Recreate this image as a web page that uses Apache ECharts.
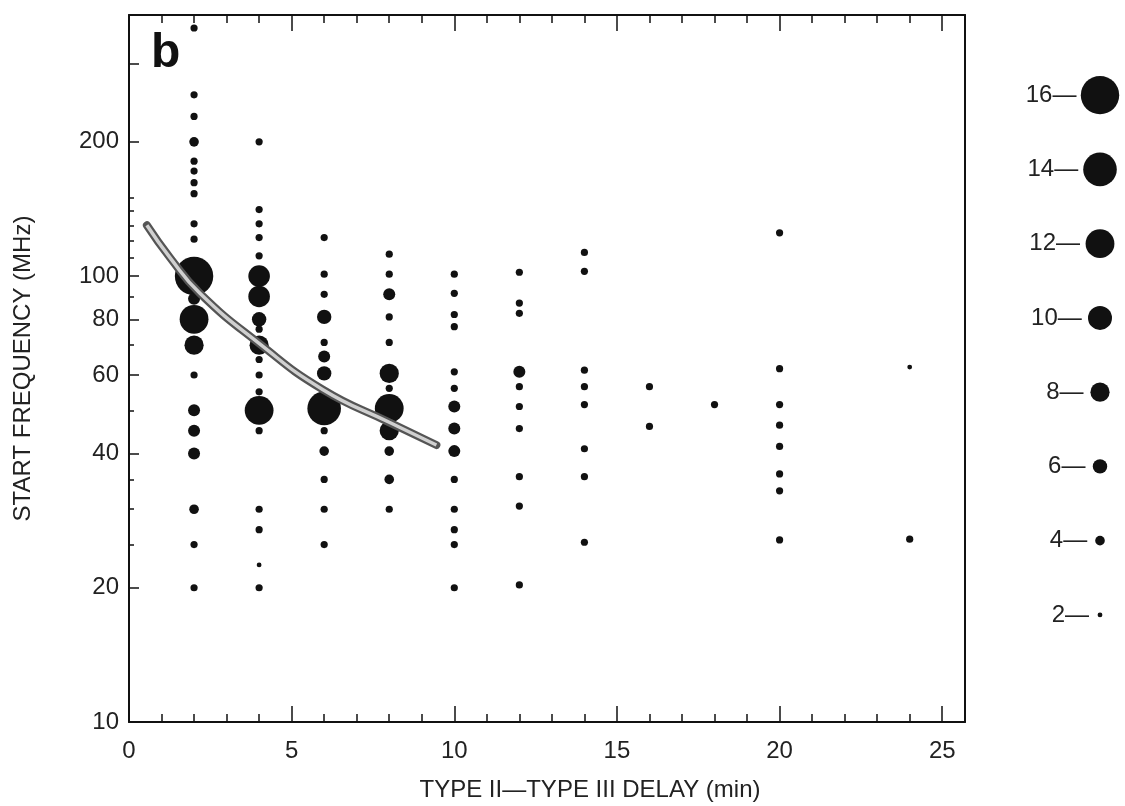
<!DOCTYPE html>
<html>
<head>
<meta charset="utf-8">
<script src="https://cdn.jsdelivr.net/npm/echarts@6/dist/echarts.min.js"></script>
<style>
html, body { margin: 0; padding: 0; background: #fff; }
#chart { width: 1125px; height: 806px; }
</style>
</head>
<body>
<div id="chart"></div>
<script>
// delay columns (min)
const delays = [2, 4, 6, 8, 10, 12, 14, 16, 18, 20, 24];
// start frequency of each burst in a column (MHz)
const freqs = [
  [360, 255, 228, 200, 181, 172, 162, 153, 131, 121, 100, 89, 80, 70, 60, 50, 45, 40, 30, 25, 20],
  [200, 141, 131, 122, 111, 100, 90, 80, 76, 70, 65, 60, 55, 50, 45, 30, 27, 22.5, 20],
  [122, 101, 91, 81, 71, 66, 60.5, 50.5, 45, 40.5, 35, 30, 25],
  [112, 101, 91, 81, 71, 60.5, 56, 50.5, 45, 40.5, 35, 30],
  [101, 91.5, 82, 77, 61, 56, 51, 45.5, 40.5, 35, 30, 27, 25, 20],
  [102, 87, 82.5, 61, 56.5, 51, 45.5, 35.5, 30.5, 20.3],
  [113, 102.5, 61.5, 56.5, 51.5, 41, 35.5, 25.3],
  [56.5, 46],
  [51.5],
  [125, 62, 51.5, 46.3, 41.5, 36, 33, 25.6],
  [62.5, 25.7]
];
// number of events for each point (dot size)
const counts = [
  [3, 3, 3, 4, 3, 3, 3, 3, 3, 3, 16, 5, 12, 8, 3, 5, 5, 5, 4, 3, 3],
  [3, 3, 3, 3, 3, 9, 9, 6, 3, 8, 3, 3, 3, 12, 3, 3, 3, 2, 3],
  [3, 3, 3, 6, 3, 5, 6, 14, 3, 4, 3, 3, 3],
  [3, 3, 5, 3, 3, 8, 3, 12, 8, 4, 4, 3],
  [3, 3, 3, 3, 3, 3, 5, 5, 5, 3, 3, 3, 3, 3],
  [3, 3, 3, 5, 3, 3, 3, 3, 3, 3],
  [3, 3, 3, 3, 3, 3, 3, 3],
  [3, 3],
  [3],
  [3, 3, 3, 3, 3, 3, 3, 3],
  [2, 3]
];
// fitted curve
const curveDelay = [0.55, 1.26, 2.18, 3.96, 5.95, 8.0, 9.45];
const curveFreq = [130, 110, 91.5, 71, 55.7, 47, 41.8];
// size key
const legendCounts = [2, 4, 6, 8, 10, 12, 14, 16];
// ticks and labels
const xLabels = [0, 5, 10, 15, 20, 25];
const xMinorTicks = [1, 2, 3, 4, 6, 7, 8, 9, 11, 12, 13, 14, 16, 17, 18, 19, 21, 22, 23, 24];
const yLabels = [10, 20, 40, 60, 80, 100, 200];
const yMinorTicks = [25, 30, 35, 50, 70, 90, 110, 120, 130, 140, 150];
const yMajorTicks = [20, 40, 60, 80, 100, 200, 300];

const FONT = 'Liberation Sans, Arial, sans-serif';
const INK = '#111';
const dotSize = n => n * 2.4;

const points = [];
delays.forEach((d, i) => {
  freqs[i].forEach((f, j) => points.push([d, f, counts[i][j]]));
});
const curve = curveDelay.map((d, i) => [d, curveFreq[i]]);

// key labels sit closer to the smaller dots
const keyRich = {};
legendCounts.forEach(c => {
  keyRich['k' + c] = { fontSize: 24, color: '#222', fontFamily: FONT, padding: [0, (c - 2) * 0.9, 0, 0] };
});

const chart = echarts.init(document.getElementById('chart'));

// axis helper for the frame
const xAx = (pos, ticks, len, labels) => ({
  gridIndex: 0, type: 'value', min: 0, max: 25.7, position: pos,
  axisLine: { show: labels !== null, onZero: false, lineStyle: { color: INK, width: 2 } },
  axisTick: { show: true, inside: true, length: len, customValues: ticks, lineStyle: { color: INK, width: 1.5 } },
  axisLabel: labels ? { customValues: labels, color: '#222', fontSize: 24, fontFamily: FONT, margin: 17 } : { show: false },
  splitLine: { show: false }
});

const option = {
  animation: false,
  backgroundColor: '#fff',
  title: {
    text: 'b', left: 146, top: 25,
    textStyle: { fontSize: 48, fontWeight: 'bold', color: INK, fontFamily: FONT }
  },
  grid: [
    { left: 129, right: 160, top: 15, bottom: 84 },
    { left: 1085, width: 30, top: 58, height: 594 }
  ],
  xAxis: [
    xAx('bottom', xMinorTicks, 8, xLabels),
    xAx('bottom', xLabels, 16, null),
    xAx('top', xMinorTicks, 8, false),
    xAx('top', xLabels, 16, null),
    { gridIndex: 1, type: 'value', min: -1, max: 1, show: false }
  ],
  yAxis: [
    {
      gridIndex: 0, type: 'log', logBase: 10, min: 10, max: 385, position: 'left',
      name: 'START FREQUENCY (MHz)', nameLocation: 'middle', nameGap: 94, nameRotate: 90,
      nameTextStyle: { fontSize: 24, color: '#222', fontFamily: FONT },
      axisLine: { show: true, onZero: false, lineStyle: { color: INK, width: 2 } },
      axisTick: { show: true, inside: true, length: 5, customValues: yMinorTicks, lineStyle: { color: INK, width: 1.5 } },
      axisLabel: { customValues: yLabels, color: '#222', fontSize: 24, fontFamily: FONT, margin: 10 },
      splitLine: { show: false }, minorTick: { show: false }
    },
    {
      gridIndex: 0, type: 'log', logBase: 10, min: 10, max: 385, position: 'left',
      axisLine: { show: false },
      axisTick: { show: true, inside: true, length: 10, customValues: yMajorTicks, lineStyle: { color: INK, width: 1.5 } },
      axisLabel: { show: false }, splitLine: { show: false }
    },
    {
      gridIndex: 0, type: 'log', logBase: 10, min: 10, max: 385, position: 'right',
      axisLine: { show: true, onZero: false, lineStyle: { color: INK, width: 2 } },
      axisTick: { show: false }, axisLabel: { show: false }, splitLine: { show: false }
    },
    {
      gridIndex: 1, type: 'category', data: legendCounts.map(String),
      axisLine: { show: false }, axisTick: { show: false }, splitLine: { show: false },
      axisLabel: { formatter: v => '{k' + v + '|' + v + '\u2014}', rich: keyRich, margin: -4 }
    }
  ],
  graphic: [{
    type: 'text', x: 590, y: 790,
    style: {
      text: 'TYPE II\u2014TYPE III DELAY (min)', fill: '#222',
      font: '24px ' + FONT, textAlign: 'center', textVerticalAlign: 'middle'
    }
  }],
  series: [
    {
      type: 'scatter', xAxisIndex: 0, yAxisIndex: 0, data: points,
      symbolSize: v => dotSize(v[2]),
      itemStyle: { color: INK, opacity: 1 }
    },
    {
      type: 'line', xAxisIndex: 0, yAxisIndex: 0, data: curve, smooth: true,
      showSymbol: false, lineStyle: { color: '#555', width: 8, cap: 'round' }
    },
    {
      type: 'line', xAxisIndex: 0, yAxisIndex: 0, data: curve, smooth: true,
      showSymbol: false, lineStyle: { color: '#d0d0d0', width: 3.5 }
    },
    {
      type: 'scatter', xAxisIndex: 4, yAxisIndex: 3,
      data: legendCounts.map(c => [0, String(c)]),
      symbolSize: v => dotSize(Number(v[1])),
      itemStyle: { color: INK, opacity: 1 }
    }
  ]
};

chart.setOption(option);
</script>
</body>
</html>
